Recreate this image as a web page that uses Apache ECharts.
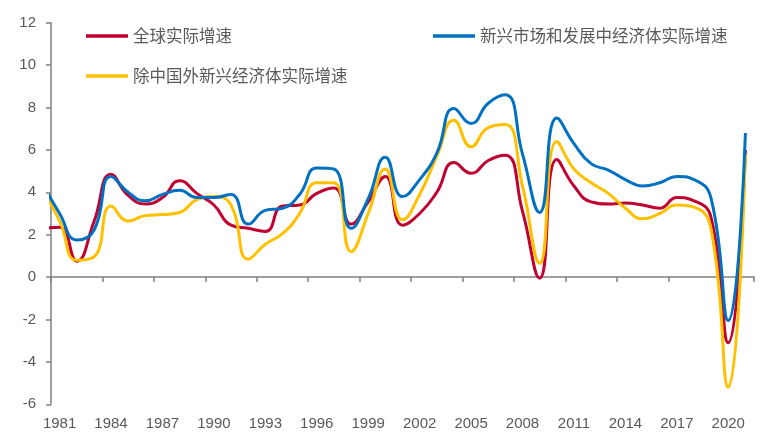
<!DOCTYPE html>
<html><head><meta charset="utf-8">
<script src="https://cdn.jsdelivr.net/npm/echarts@6/dist/echarts.min.js"></script>
<style>html,body{margin:0;padding:0;background:#fff}#c{width:777px;height:448px}</style>
</head><body><div id="c"></div>
<script>
// Years (1980 point only shapes the curve entering the plot; axis starts mid-1980)
const years = [1980,1981,1982,1983,1984,1985,1986,1987,1988,1989,1990,1991,1992,1993,1994,1995,1996,1997,1998,1999,2000,2001,2002,2003,2004,2005,2006,2007,2008,2009,2010,2011,2012,2013,2014,2015,2016,2017,2018,2019,2020,2021];
const globalGrowth = [2.3,2.35,0.75,2.6,4.85,3.85,3.45,3.75,4.55,3.95,3.4,2.45,2.3,2.15,3.35,3.4,3.95,4.2,2.5,3.55,4.75,2.45,3.0,4.0,5.4,4.9,5.5,5.75,3.1,-0.05,5.55,4.3,3.55,3.45,3.5,3.4,3.25,3.75,3.6,2.8,-3.1,6.0];
const emdeGrowth = [4.4,3.0,1.75,2.2,4.75,4.0,3.6,3.9,4.1,3.75,3.75,3.9,2.5,3.15,3.25,3.9,5.15,5.1,2.3,3.7,5.65,3.8,4.6,5.85,7.95,7.25,8.2,8.6,5.8,3.05,7.5,6.3,5.35,5.05,4.6,4.3,4.45,4.75,4.6,3.7,-2.05,6.8];
const emdeExChinaGrowth = [4.1,2.65,0.8,0.95,3.35,2.65,2.9,2.95,3.05,3.65,3.8,3.4,0.85,1.55,2.05,3.0,4.45,4.45,1.2,3.0,5.1,2.7,3.9,5.7,7.4,6.15,7.05,7.2,4.3,0.65,6.4,5.1,4.45,3.95,3.25,2.75,3.0,3.4,3.3,2.25,-5.2,5.8];
const xLabelYears = [1981,1984,1987,1990,1993,1996,1999,2002,2005,2008,2011,2014,2017,2020];
const xMin = 1980.5, xMax = 2021.5, xTickStep = 3; // ticks at year boundaries every 3 years
const seriesNames = ['全球实际增速','新兴市场和发展中经济体实际增速','除中国外新兴经济体实际增速'];
const yMin = -6, yMax = 12, yStep = 2;

const pairs = arr => years.map((y,i)=>[y,arr[i]]);
const chart = echarts.init(document.getElementById('c'));
const axisGray = '#808080';
const textGray = '#595959';
const legendText = {color:textGray,fontSize:16.5,fontFamily:'Noto Sans CJK SC',lineHeight:20};
function legend(name,left,top){
  return {data:[name],left:left,top:top,padding:0,icon:'rect',itemWidth:42,itemHeight:3.5,
    textStyle:legendText,selectedMode:false};
}
const lineSeries = (name,data,color,z) => ({
  name:name,type:'line',data:pairs(data),smooth:0.5,symbol:'none',z:z,
  lineStyle:{color:color,width:3},itemStyle:{color:color},clip:true,xAxisIndex:0,yAxisIndex:0
});
chart.setOption({
  animation:false,
  grid:[
    {left:51,right:23,top:22.7,bottom:43.7},
    {left:51,right:23,top:403.3,height:1}
  ],
  legend:[legend(seriesNames[0],86,26),legend(seriesNames[1],433,26),legend(seriesNames[2],86,66)],
  xAxis:[
    {gridIndex:0,type:'value',min:xMin,max:xMax,interval:xTickStep,
     axisLine:{show:true,onZero:true,lineStyle:{color:axisGray,width:1.5}},
     axisTick:{show:true,length:5,lineStyle:{color:axisGray,width:1.5}},
     axisLabel:{show:true,color:'rgba(0,0,0,0)',fontSize:10},splitLine:{show:false}},
    {gridIndex:1,type:'value',min:xMin,max:xMax,position:'bottom',
     axisLine:{show:false,onZero:false},axisTick:{show:false},splitLine:{show:false},
     axisLabel:{show:true,customValues:xLabelYears,margin:12,color:textGray,fontSize:15,fontFamily:'Liberation Sans',formatter:v=>String(v)}}
  ],
  yAxis:[
    {gridIndex:0,type:'value',min:yMin,max:yMax,interval:yStep,
     axisLine:{show:true,lineStyle:{color:axisGray,width:1.5}},
     axisTick:{show:true,length:5,lineStyle:{color:axisGray,width:1.5}},
     axisLabel:{color:textGray,fontSize:15,fontFamily:'Liberation Sans',margin:15},
     splitLine:{show:false}},
    {gridIndex:1,type:'value',min:0,max:1,show:false}
  ],
  series:[
    lineSeries(seriesNames[0],globalGrowth,'#C00030',3),
    lineSeries(seriesNames[2],emdeExChinaGrowth,'#FFC000',4),
    lineSeries(seriesNames[1],emdeGrowth,'#0070C0',5)
  ]
});
</script></body></html>
